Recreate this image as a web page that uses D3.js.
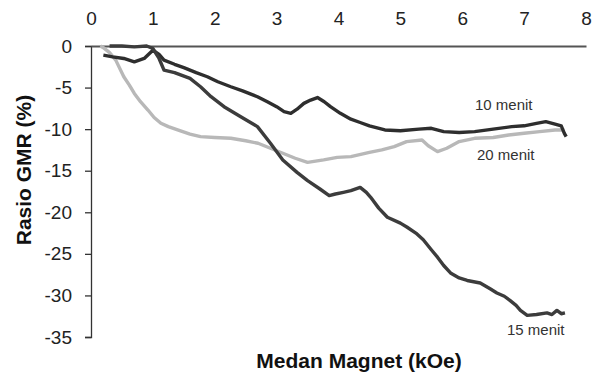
<!DOCTYPE html>
<html><head><meta charset="utf-8">
<script src="https://cdn.jsdelivr.net/npm/d3@7"></script>
<style>body{margin:0;background:#fff}svg{display:block}</style>
</head><body>
<svg id="c" width="593" height="376"></svg>
<script>
const xTicks = [0,1,2,3,4,5,6,7,8];
const yTicks = [0,-5,-10,-15,-20,-25,-30,-35];
const seriesNames = ["20 menit","10 menit","15 menit"];

const m20X = [0.15,0.2,0.3,0.4,0.53,0.62,0.7,0.8,0.92,1.02,1.13,1.25,1.4,1.6,1.77,2.0,2.26,2.5,2.7,2.9,3.1,3.3,3.5,3.76,3.98,4.2,4.5,4.7,4.9,5.1,5.35,5.45,5.6,5.75,5.95,6.2,6.5,6.75,7.0,7.25,7.5,7.65];
const m20Y = [0,-0.2,-0.8,-1.7,-3.7,-4.7,-5.7,-6.7,-7.7,-8.6,-9.3,-9.7,-10.1,-10.6,-10.9,-11.0,-11.1,-11.4,-11.7,-12.3,-12.9,-13.5,-14.0,-13.7,-13.4,-13.3,-12.8,-12.5,-12.1,-11.5,-11.3,-12.0,-12.7,-12.3,-11.5,-11.1,-11.0,-10.7,-10.5,-10.3,-10.1,-10.1];

const m10X = [0.2,0.35,0.53,0.7,0.86,1.0,1.1,1.18,1.35,1.5,1.7,1.88,2.05,2.26,2.45,2.69,2.85,3.0,3.12,3.23,3.33,3.44,3.55,3.66,3.77,3.87,4.03,4.2,4.35,4.5,4.75,5.0,5.3,5.5,5.7,5.95,6.2,6.5,6.8,7.0,7.2,7.35,7.5,7.6,7.65,7.68];
const m10Y = [-1.1,-1.3,-1.5,-1.9,-1.5,-0.5,-1.0,-1.7,-2.2,-2.6,-3.2,-3.7,-4.3,-4.9,-5.4,-6.1,-6.7,-7.3,-7.9,-8.1,-7.6,-6.9,-6.5,-6.2,-6.7,-7.3,-8.1,-8.8,-9.2,-9.6,-10.1,-10.2,-10.0,-9.9,-10.3,-10.4,-10.3,-10.0,-9.7,-9.6,-9.3,-9.1,-9.4,-9.6,-10.5,-10.9];

const m15X = [0.3,0.5,0.7,0.9,1.0,1.1,1.18,1.35,1.6,1.77,1.94,2.15,2.42,2.69,2.9,3.1,3.33,3.5,3.7,3.85,3.95,4.08,4.2,4.35,4.45,4.52,4.65,4.79,5.0,5.11,5.25,5.37,5.5,5.6,5.7,5.81,5.95,6.08,6.29,6.45,6.56,6.68,6.77,6.87,6.94,7.05,7.2,7.37,7.45,7.53,7.6,7.66];
const m15Y = [0,0,-0.1,0,-0.3,-1.5,-2.9,-3.2,-3.9,-4.9,-6.1,-7.3,-8.5,-9.7,-11.7,-13.7,-15.2,-16.2,-17.2,-18.0,-17.8,-17.6,-17.4,-17.0,-17.6,-18.2,-19.5,-20.6,-21.3,-21.8,-22.5,-23.3,-24.5,-25.4,-26.4,-27.3,-27.9,-28.2,-28.5,-29.2,-29.7,-30.1,-30.6,-31.2,-31.8,-32.4,-32.3,-32.1,-32.3,-31.8,-32.2,-32.1];

const FONT = "Liberation Sans, Arial, sans-serif";
const svg = d3.select("#c");
const x = d3.scaleLinear().domain([0,8]).range([91,586]);
const y = d3.scaleLinear().domain([0,-35]).range([46,337]);

// y axis
const ya = svg.append("g").attr("transform","translate(91,0)")
  .call(d3.axisLeft(y).tickValues(yTicks).tickFormat(d=>String(d)).tickSize(6).tickSizeOuter(6).tickPadding(13));
ya.select(".domain").attr("stroke","#333").attr("stroke-width",1.3);
ya.selectAll(".tick line").attr("stroke","#333").attr("stroke-width",1.3);
ya.selectAll(".tick text").attr("font-family",FONT).attr("font-size",19).attr("fill","#222");

// x axis at zero, labels on top
const xa = svg.append("g").attr("transform",`translate(0,${y(0)})`)
  .call(d3.axisTop(x).tickValues(xTicks).tickFormat(d=>String(d)).tickSize(0).tickSizeOuter(0).tickPadding(21));
xa.select(".domain").attr("stroke","#555").attr("stroke-width",1.8);
xa.selectAll(".tick text").attr("font-family",FONT).attr("font-size",19).attr("fill","#222");

const line = d3.line().x(d=>x(d[0])).y(d=>y(d[1]));
const series = [
  {name:seriesNames[0], xs:m20X, ys:m20Y, color:"#b8b8b8"},
  {name:seriesNames[1], xs:m10X, ys:m10Y, color:"#2e2e2e"},
  {name:seriesNames[2], xs:m15X, ys:m15Y, color:"#3c3c3c"}
];
series.forEach(s=>{
  svg.append("path").datum(s.xs.map((v,i)=>[v,s.ys[i]]))
    .attr("d",line).attr("fill","none").attr("stroke",s.color)
    .attr("stroke-width",3.4).attr("stroke-linejoin","round");
});

const lab = [
  {t:"10 menit", x:475, y:106},
  {t:"20 menit", x:477, y:156},
  {t:"15 menit", x:507, y:331}
];
svg.selectAll("text.lab").data(lab).enter().append("text").attr("class","lab")
  .attr("x",d=>d.x).attr("y",d=>d.y).attr("dominant-baseline","middle")
  .attr("font-family",FONT).attr("font-size",15).attr("fill","#333")
  .text(d=>d.t);

svg.append("text").attr("x",359).attr("y",368).attr("text-anchor","middle")
  .attr("font-family",FONT).attr("font-weight","bold").attr("font-size",21).attr("fill","#111")
  .text("Medan Magnet (kOe)");
svg.append("text").attr("transform","translate(31,170) rotate(-90)").attr("text-anchor","middle")
  .attr("font-family",FONT).attr("font-weight","bold").attr("font-size",21).attr("fill","#111")
  .text("Rasio GMR (%)");
</script>
</body></html>
